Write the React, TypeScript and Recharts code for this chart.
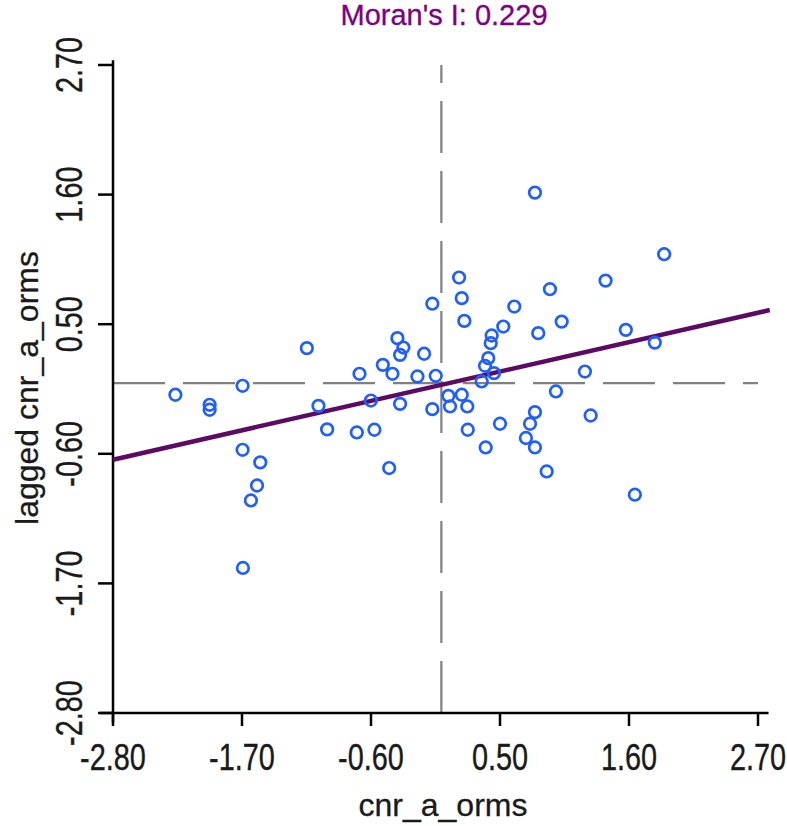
import * as React from 'react';
import { ScatterChart, Scatter, XAxis, YAxis, ReferenceLine } from 'recharts';

// standardized values
const xValues = [
  -1.147, -2.268, -1.976, -1.976, -1.695, -1.048, -0.974, -1.695, -1.544, -1.572,
  -1.624, -1.692, 0.151, 0.174, 0.196, -0.077, -0.375, -0.324, -0.352, -0.147,
  -0.499, -0.417, -0.698, -0.204, -0.048, -0.601, -0.352, -0.077, 0.06, 0.174,
  0.074, 0.221, -0.721, -0.571, 0.225, -0.445, 0.798, 0.622, 0.926, 1.026,
  0.826, 0.528, 0.429, 0.421, 0.4, 0.372, 0.449, 0.344, 1.224, 0.977,
  0.798, 1.273, 0.756, 0.5, 0.721, 0.798, 0.378, 0.898, 1.9, 1.4,
  1.573, 1.82, 1.65,
];
const yValues = [
  0.297, -0.099, -0.184, -0.226, -0.023, -0.193, -0.393, -0.566, -0.673, -0.869,
  -0.996, -1.569, 0.896, 0.721, 0.528, 0.674, 0.382, 0.302, 0.24, 0.249,
  0.155, 0.079, 0.079, 0.056, 0.062, -0.148, -0.176, -0.221, -0.108, -0.099,
  -0.198, -0.198, -0.419, -0.396, -0.396, -0.721, 1.617, 0.65, 0.797, 0.522,
  0.424, 0.48, 0.404, 0.339, 0.212, 0.147, 0.085, 0.014, 0.098, -0.071,
  -0.246, -0.275, -0.345, -0.345, -0.466, -0.546, -0.546, -0.75, 1.094, 0.87,
  0.452, 0.344, -0.947,
];
const axisTicks = [-2.8, -1.7, -0.6, 0.5, 1.6, 2.7];
const fitX = [-2.8, 2.8];
const fitY = [-0.65, 0.62];
const moransI = 0.229;

const points = xValues.map((x, i) => ({ x, y: yValues[i] }));
const fitLine = fitX.map((x, i) => ({ x, y: fitY[i] }));

const FONT = '"Liberation Sans", Arial, sans-serif';
const TEXT = '#1a1a1a';

const XTick = (props: any) => {
  const { x, y, payload } = props;
  return (
    <g transform={`translate(${x},${y + 44}) scale(0.78,1)`}>
      <text textAnchor="middle" fontSize={37} fontFamily={FONT} fill={TEXT} stroke={TEXT} strokeWidth={0.4}>
        {Number(payload.value).toFixed(2)}
      </text>
    </g>
  );
};

const YTick = (props: any) => {
  const { x, y, payload } = props;
  return (
    <g transform={`translate(${x - 16},${y}) rotate(-90) scale(0.78,1)`}>
      <text textAnchor="middle" fontSize={37} fontFamily={FONT} fill={TEXT} stroke={TEXT} strokeWidth={0.4}>
        {Number(payload.value).toFixed(2)}
      </text>
    </g>
  );
};

const Dot = (props: any) => (
  <circle cx={props.cx} cy={props.cy} r={5.8} fill="none" stroke="#1f5eff" strokeWidth={2.7} />
);

export default function App() {
  return (
    <div style={{ position: 'absolute', left: 0, top: 0, width: 787, height: 826 }}>
      <ScatterChart width={787} height={826} margin={{ top: 65, right: 29, left: 53, bottom: 53 }}>
        <XAxis
          type="number"
          dataKey="x"
          domain={[-2.8, 2.7]}
          allowDataOverflow
          ticks={axisTicks}
          interval={0}
          height={60}
          tickSize={13}
          tickMargin={0}
          axisLine={false}
          tickLine={{ stroke: '#000', strokeWidth: 2.5 }}
          tick={<XTick />}
        />
        <YAxis
          type="number"
          dataKey="y"
          domain={[-2.8, 2.7]}
          allowDataOverflow
          ticks={axisTicks}
          interval={0}
          width={60}
          tickSize={15}
          tickMargin={0}
          axisLine={false}
          tickLine={{ stroke: '#000', strokeWidth: 2.5 }}
          tick={<YTick />}
        />
        <ReferenceLine y={0} stroke="#808080" strokeWidth={2.2} strokeDasharray="52 18" />
        <ReferenceLine x={0} stroke="#808080" strokeWidth={2.2} strokeDasharray="52 18" />
        <ReferenceLine
          segment={[{ x: -2.91, y: -2.8 }, { x: 2.79, y: -2.8 }]}
          stroke="#000"
          strokeWidth={2.5}
          ifOverflow="visible"
        />
        <ReferenceLine
          segment={[{ x: -2.8, y: -2.88 }, { x: -2.8, y: 2.74 }]}
          stroke="#000"
          strokeWidth={2.5}
          ifOverflow="visible"
        />
        <Scatter data={points} shape={<Dot />} isAnimationActive={false} />
        <ReferenceLine
          segment={fitLine}
          stroke="#5c0a64"
          strokeWidth={4.5}
          ifOverflow="visible"
        />
      </ScatterChart>
      <svg
        width={787}
        height={826}
        style={{ position: 'absolute', left: 0, top: 0, pointerEvents: 'none' }}
      >
        <text x={444} y={25} textAnchor="middle" fontSize={29} fontFamily={FONT} fill="#800080" stroke="#800080" strokeWidth={0.3}>
          {`Moran's I: ${moransI.toFixed(3)}`}
        </text>
        <text x={443} y={816} textAnchor="middle" fontSize={32} fontFamily={FONT} fill={TEXT} stroke={TEXT} strokeWidth={0.3}>
          cnr_a_orms
        </text>
        <text
          transform="translate(38,388) rotate(-90)"
          textAnchor="middle"
          fontSize={32}
          fontFamily={FONT}
          fill={TEXT}
          stroke={TEXT}
          strokeWidth={0.3}
        >
          lagged cnr_a_orms
        </text>
      </svg>
    </div>
  );
}
